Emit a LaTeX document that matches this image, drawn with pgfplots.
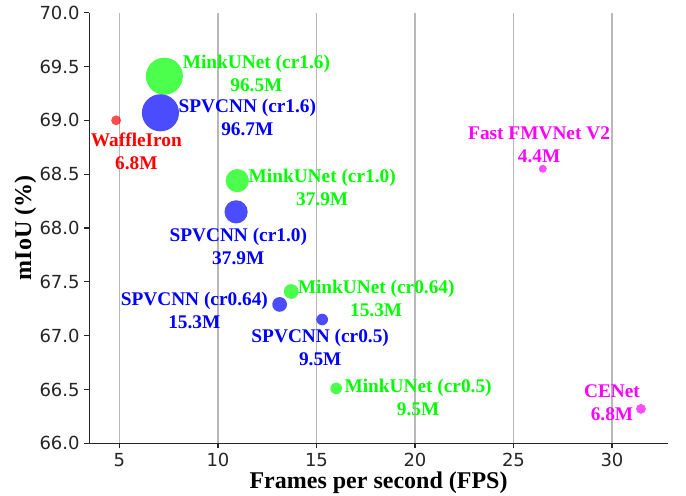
\documentclass[border=0pt]{standalone}
\usepackage{pgfplots}
\pgfplotsset{compat=1.18}
\usepackage{pgfplotstable}
\usepackage{fontspec}
\setmainfont{Liberation Serif}
\newfontfamily\dejavu{DejaVu Sans}
\definecolor{limec}{RGB}{0,255,0}
\definecolor{bluec}{RGB}{0,0,255}
\definecolor{redc}{RGB}{255,0,0}
\definecolor{magc}{RGB}{255,0,255}

\pgfplotstableread{
x y p
4.83 69.00 6.8
}\waffle
\pgfplotstableread{
x y p
7.28 69.41 96.5
10.98 68.44 37.9
13.72 67.41 15.3
16.00 66.51 9.5
}\mink
\pgfplotstableread{
x y p
7.08 69.07 96.7
10.92 68.15 37.9
13.13 67.29 15.3
15.29 67.15 9.5
}\spv
\pgfplotstableread{
x y p
26.49 68.55 4.4
31.47 66.32 6.8
}\magpts

\pgfplotsset{
  bub/.style={scatter, only marks, mark=*,
    scatter/use mapped color={draw=#1, fill=#1, draw opacity=0, fill opacity=0.7},
    mark options={draw=#1, fill=#1, draw opacity=0, fill opacity=0.7},
    visualization depends on={sqrt(\thisrow{p})*1.415 \as \msize},
    scatter/@pre marker code/.append style={/tikz/mark size=\msize pt}}
}
\tikzset{lab/.style={font=\fontsize{14.5}{17.25}\selectfont\bfseries, align=center, inner sep=0pt}}

\begin{document}
\begin{tikzpicture}
\path[use as bounding box] (-67pt,-39.5pt) rectangle (447.5pt,332.5pt);
\begin{axis}[
  scale only axis, width=433.8pt, height=323pt,
  xmin=3.47, xmax=32.83, ymin=66, ymax=70,
  axis x line*=bottom, axis y line*=left,
  axis line style={-, line width=0.9pt, black!85},
  xtick={5,10,15,20,25,30},
  ytick={66,66.5,67,67.5,68,68.5,69,69.5,70},
  yticklabel style={/pgf/number format/.cd, fixed, fixed zerofill, precision=1},
  /pgf/number format/assume math mode=true,
  tick label style={font=\fontsize{13.5}{16}\dejavu, black!85},
  tick align=outside, major tick length=3.75pt,
  tick style={line width=0.8pt, black!85},
  xmajorgrids, grid style={black!28, line width=0.8pt},
  clip=false,
  xlabel={Frames per second (FPS)},
  ylabel={mIoU (\%)},
  label style={font=\fontsize{18}{21}\selectfont\bfseries},
  xlabel style={at={(axis description cs:0.5,0)}, anchor=center, yshift=-29.5pt},
  ylabel style={at={(axis description cs:0,0.5)}, anchor=center, yshift=48pt},
]
\addplot[bub=redc] table[x=x,y=y] {\waffle};
\addplot[bub=limec] table[x=x,y=y] {\mink};
\addplot[bub=bluec] table[x=x,y=y] {\spv};
\addplot[bub=magc] table[x=x,y=y] {\magpts};

\node[lab, text=limec] at (axis cs:11.95,69.44) {MinkUNet (cr1.6)\\96.5M};
\node[lab, text=bluec] at (axis cs:11.49,69.03) {SPVCNN (cr1.6)\\96.7M};
\node[lab, text=redc] at (axis cs:5.86,68.71) {WaffleIron\\6.8M};
\node[lab, text=limec] at (axis cs:15.29,68.38) {MinkUNet (cr1.0)\\37.9M};
\node[lab, text=bluec] at (axis cs:11.03,67.83) {SPVCNN (cr1.0)\\37.9M};
\node[lab, text=limec] at (axis cs:18.03,67.35) {MinkUNet (cr0.64)\\15.3M};
\node[lab, text=bluec] at (axis cs:8.80,67.23) {SPVCNN (cr0.64)\\15.3M};
\node[lab, text=bluec] at (axis cs:15.19,66.89) {SPVCNN (cr0.5)\\9.5M};
\node[lab, text=limec] at (axis cs:20.16,66.43) {MinkUNet (cr0.5)\\9.5M};
\node[lab, text=magc] at (axis cs:26.30,68.77) {Fast FMVNet V2\\4.4M};
\node[lab, text=magc] at (axis cs:30.0,66.38) {CENet\\6.8M};
\end{axis}
\end{tikzpicture}
\end{document}
